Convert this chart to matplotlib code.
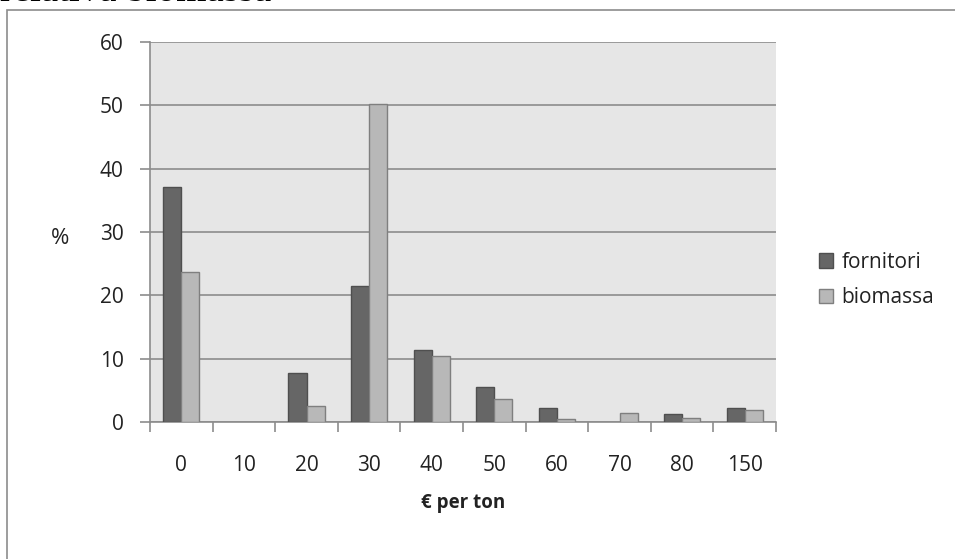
import matplotlib
matplotlib.use("Agg")
import matplotlib.pyplot as plt
import numpy as np
from matplotlib.patches import Rectangle, Patch

categories = ["0", "10", "20", "30", "40", "50", "60", "70", "80", "150"]
fornitori = [37.1, 0, 7.8, 21.4, 11.3, 5.6, 2.2, 0, 1.2, 2.2]
biomassa = [23.7, 0, 2.6, 50.2, 10.5, 3.6, 0.4, 1.5, 0.6, 1.9]
series_names = ["fornitori", "biomassa"]
yticks = [0, 10, 20, 30, 40, 50, 60]

W, H = 955, 559
fig = plt.figure(figsize=(W / 100, H / 100), dpi=100)
fig.patch.set_facecolor("white")
plt.rcParams["font.family"] = ["Open Sans", "DejaVu Sans"]

# outer chart border (top and left only visible)
fig.add_artist(Rectangle((7 / W, -0.1), 1.2, 1 - 10 / H + 0.1, transform=fig.transFigure,
                         fill=False, edgecolor="#8c8c8c", linewidth=1.2))
# page text cut off at top
fig.text(0 / W, 1 - 1 / H, "relativa biomassa", family="Liberation Serif",
         fontsize=28, va="baseline", ha="left")

ax = fig.add_axes([150 / W, 1 - 422 / H, (776 - 150) / W, (422 - 42) / H])
ax.set_facecolor("#e6e6e6")

x = np.arange(len(categories))
w = 0.29
ec1 = ["#4f4f4f" if v > 0 else "none" for v in fornitori]
ec2 = ["#7f7f7f" if v > 0 else "none" for v in biomassa]
ax.bar(x - w / 2, fornitori, w, color="#666666", edgecolor=ec1, linewidth=1.0,
       zorder=3, label=series_names[0])
ax.bar(x + w / 2, biomassa, w, color="#b8b8b8", edgecolor=ec2, linewidth=1.0,
       zorder=3, label=series_names[1])

ax.set_xlim(-0.5, len(categories) - 0.5)
ax.set_ylim(0, 60)
ax.set_yticks(yticks)
ax.set_yticklabels([str(v) for v in yticks], fontsize=15, color="#222222")
ax.yaxis.grid(True, color="#8c8c8c", linewidth=1.2, zorder=0)
ax.set_axisbelow(True)

ax.set_xticks(np.arange(-0.5, len(categories), 1.0))
ax.set_xticklabels([])
ax.set_xticks(x, minor=True)
ax.set_xticklabels(categories, minor=True, fontsize=15, color="#222222")
ax.tick_params(axis="x", which="major", length=7, color="#8c8c8c", width=1.2)
ax.tick_params(axis="x", which="minor", length=0, pad=24)
ax.tick_params(axis="y", length=7, color="#8c8c8c", width=1.2, pad=12)

for s in ["top", "right"]:
    ax.spines[s].set_visible(False)
for s in ["left", "bottom"]:
    ax.spines[s].set_color("#8c8c8c")
    ax.spines[s].set_linewidth(1.2)

fig.text(463 / W, 1 - 503 / H, "€ per ton", fontsize=13.5, fontweight="bold",
         ha="center", va="center", color="#222222")
fig.text(60 / W, 1 - 238 / H, "%", fontsize=16, ha="center", va="center", color="#222222")

handles = [Patch(facecolor="#666666", edgecolor="#4f4f4f"),
           Patch(facecolor="#b8b8b8", edgecolor="#7f7f7f")]
fig.legend(handles, series_names, loc="center left", bbox_to_anchor=(800 / W, 1 - 280 / H),
           frameon=False, fontsize=15, handlelength=0.7, handleheight=0.7,
           handletextpad=0.4, labelspacing=0.7, labelcolor="#222222")

fig.savefig("out.png", dpi=100)
